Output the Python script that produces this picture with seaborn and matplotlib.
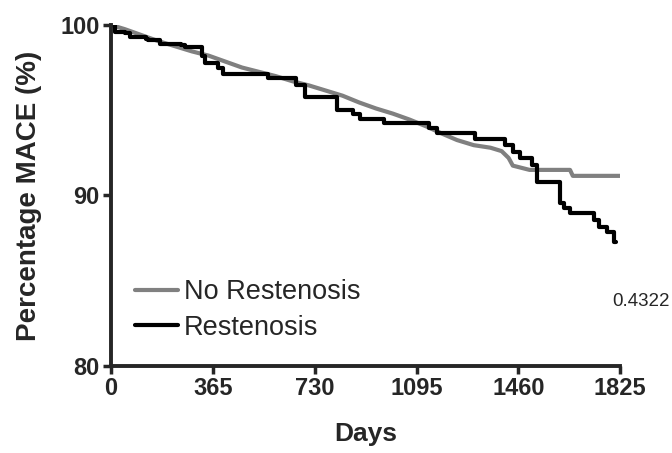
import matplotlib
matplotlib.use("Agg")
import matplotlib.pyplot as plt
import pandas as pd
import seaborn as sns

# Kaplan-Meier style MACE-free curves
no_rest_days = [0, 50, 110, 170, 230, 290, 350, 410, 470, 530, 590, 650, 710, 770,
                830, 890, 950, 1010, 1070, 1130, 1190, 1240, 1300, 1360, 1400, 1425,
                1440, 1500, 1645, 1655, 1825]
no_rest_pct = [100.0, 99.75, 99.4, 99.05, 98.75, 98.45, 98.2, 97.85, 97.5, 97.25, 97.0,
               96.7, 96.45, 96.15, 95.85, 95.45, 95.1, 94.8, 94.45, 94.05, 93.6, 93.25,
               92.95, 92.8, 92.6, 92.2, 91.75, 91.5, 91.5, 91.15, 91.15]

rest_days = [0, 14, 50, 68, 125, 134, 176, 253, 267, 325, 337, 384, 400, 564, 665, 695,
             810, 868, 892, 978, 1139, 1169, 1306, 1413, 1442, 1466, 1508, 1526, 1610,
             1622, 1646, 1730, 1748, 1778, 1802, 1808]
rest_pct = [100.0, 99.6, 99.5, 99.3, 99.2, 99.1, 98.9, 98.8, 98.7, 98.15, 97.75, 97.45,
            97.15, 96.9, 96.45, 95.8, 95.0, 94.8, 94.5, 94.25, 93.95, 93.65, 93.3, 92.95,
            92.57, 92.18, 91.8, 90.8, 89.55, 89.25, 88.95, 88.55, 88.15, 87.85, 87.3, 87.3]

groups = ["No Restenosis", "Restenosis"]
colors = {"No Restenosis": "#808080", "Restenosis": "#000000"}
x_ticks = [0, 365, 730, 1095, 1460, 1825]
y_ticks = [80, 90, 100]
p_value = "0.4322"

no_rest = pd.DataFrame({"day": no_rest_days, "pct": no_rest_pct})
rest = pd.DataFrame({"day": rest_days, "pct": rest_pct})

sns.set_style("ticks")
plt.rcParams["font.family"] = ["Liberation Sans", "DejaVu Sans"]

fig = plt.figure(figsize=(6.72, 4.53), dpi=100)
ax = fig.add_axes([0.165, 0.192, 0.758, 0.753])

# the no-restenosis group has many small events, so it reads as a near-smooth line
sns.lineplot(data=no_rest, x="day", y="pct", color=colors[groups[0]],
             estimator=None, sort=False, linewidth=3.0, ax=ax)
sns.lineplot(data=rest, x="day", y="pct", color=colors[groups[1]],
             estimator=None, sort=False, drawstyle="steps-post",
             linewidth=3.0, ax=ax)

ax.set_xlim(0, 1825)
ax.set_ylim(80, 100)
ax.set_xticks(x_ticks)
ax.set_yticks(y_ticks)
ax.tick_params(axis="both", direction="out", length=6, width=2.5,
               labelsize=17, pad=2)
for lab in ax.get_xticklabels() + ax.get_yticklabels():
    lab.set_fontweight("bold")
for side in ("top", "right"):
    ax.spines[side].set_visible(False)
for side in ("left", "bottom"):
    ax.spines[side].set_linewidth(2.8)

ax.set_xlabel("Days", fontsize=19, fontweight="bold", labelpad=16)
ax.set_ylabel("Percentage MACE (%)", fontsize=20, fontweight="bold", labelpad=13)

handles = [plt.Line2D([], [], color=colors[g], linewidth=3.0) for g in groups]
ax.legend(handles, groups, loc="upper left", bbox_to_anchor=(0.047, 0.255),
          frameon=False, fontsize=19.5, handlelength=1.6, handletextpad=0.2,
          labelspacing=0.36, borderpad=0, borderaxespad=0)

ax.text(0.984, 0.19, p_value, transform=ax.transAxes, fontsize=13.5,
        ha="left", va="center", clip_on=False)

fig.savefig("out.png", dpi=100)
